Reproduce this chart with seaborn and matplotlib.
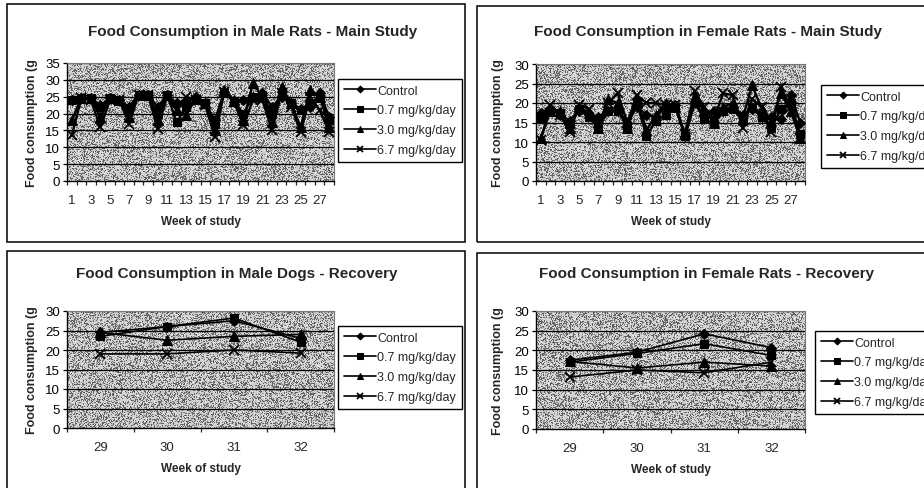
import numpy as np
import pandas as pd
import matplotlib
matplotlib.use("Agg")
import matplotlib.pyplot as plt
from matplotlib.patches import Rectangle
import seaborn as sns

sns.set_theme(style="white")
plt.rcParams["font.family"] = ["Liberation Sans", "DejaVu Sans"]

# ---- data -----------------------------------------------------------------
doses = ["Control", "0.7 mg/kg/day", "3.0 mg/kg/day", "6.7 mg/kg/day"]

main_weeks = list(range(1, 29))
male_rats_control = [24, 24.5, 24.5, 22.5, 24.5, 24, 22, 25.5, 25.5, 22, 25.5, 23, 23, 25,
                     23, 18, 26.5, 23.5, 24, 25, 26, 22, 25, 23, 21.5, 22, 26, 19]
male_rats_07 = [24, 24.5, 24.5, 22, 24.5, 24, 21, 25.5, 25.5, 20, 25.5, 17.5, 22, 24,
                23, 17, 26.5, 23.5, 20, 25, 25.5, 20, 26, 23, 21, 23, 25, 18]
male_rats_30 = [18, 24.5, 24.5, 19, 24.5, 24, 19, 25.5, 25.5, 18, 25.5, 21, 19.5, 24.5,
                23, 15, 27, 24, 18, 29, 25, 17.5, 28, 23, 16, 27, 25, 16]
male_rats_67 = [13.5, 24.5, 24, 16, 24, 24, 17, 25.5, 25.5, 15.5, 25, 21, 25, 24,
                22.5, 13, 26.5, 23.5, 16.5, 24, 24, 15, 26, 22, 14.5, 25, 21, 14.5]

female_rats_control = [17.5, 18.5, 17, 15.5, 18, 17, 16.5, 18, 18, 15, 19, 17, 16.5, 19,
                       19.5, 11.5, 20, 17, 18, 18, 19, 17, 18.5, 16.5, 16.5, 16, 22, 15]
female_rats_07 = [16, 18, 17.5, 14.5, 18.5, 16.5, 13.5, 18, 18, 14, 20, 11.5, 15.5, 17,
                  19, 11.5, 20, 16, 14.5, 18, 18.5, 15.5, 19, 16.5, 13.5, 18.5, 20, 12]
female_rats_30 = [11, 18, 18, 13.5, 19, 17.5, 13.5, 21, 20, 13.5, 21, 13, 17, 20,
                  19, 12, 21.5, 18, 15, 19, 20, 16, 24.5, 18.5, 15.5, 22.5, 18, 11]
female_rats_67 = [10.5, 19.5, 17, 12.5, 19.5, 18.5, 15, 20, 22.5, 15, 22, 20, 20, 19.5,
                  19.5, 12, 23, 19, 16, 22.5, 22, 13.5, 21, 19, 12.5, 24, 19, 11]

recovery_weeks = [29, 30, 31, 32]
male_dogs_control = [24.5, 26, 27.5, 23]
male_dogs_07 = [23.5, 26, 28.2, 22]
male_dogs_30 = [24.5, 22.5, 23.5, 24]
male_dogs_67 = [19, 19, 20, 19.2]

female_rec_control = [17.5, 19.5, 24.2, 20.7]
female_rec_07 = [17, 19.2, 21.7, 18.7]
female_rec_30 = [17.2, 15.5, 17, 16]
female_rec_67 = [13.2, 15, 14.3, 17]

# ---- figure helpers -------------------------------------------------------
W, H = 924, 489
fig = plt.figure(figsize=(W / 100, H / 100), dpi=100)


def rect(l, t, r, b):
    return [l / W, 1 - b / H, (r - l) / W, (b - t) / H]


def fx(x):
    return x / W


def fy(y):
    return 1 - y / H


markers = ["D", "s", "^", "X"]
marker_kw = {"D": 5, "s": 5.5, "^": 6.5, "X": 6.5}
rng = np.random.default_rng(3)


def long_frame(weeks, series):
    rows = []
    for name, vals in zip(doses, series):
        for w, v in zip(weeks, vals):
            rows.append({"week": w, "value": v, "dose": name})
    return pd.DataFrame(rows)


def panel(ax_px, frame_px, title, title_xy, weeks, series, ymax, main, legend_xy, ylab_x):
    l, t, r, b = frame_px
    fig.patches.append(Rectangle((fx(l), fy(b)), (r - l) / W, (b - t) / H,
                                 transform=fig.transFigure, fill=False,
                                 edgecolor="black", linewidth=1.1, zorder=0))
    ax = fig.add_axes(rect(*ax_px))
    # stippled grey plot area
    tex = rng.random((120, 270))
    tex = np.where(tex < 0.35, 0.40, 0.82) + rng.normal(0, 0.04, tex.shape)
    ax.imshow(tex, cmap="gray", vmin=0, vmax=1, aspect="auto", interpolation="nearest",
              extent=(0, 1, 0, 1), transform=ax.transAxes, zorder=0)

    df = long_frame(weeks, series)
    lw = 1.7 if main else 1.2
    sns.lineplot(data=df, x="week", y="value", style="dose", markers=markers,
                 dashes=False, color="black", linewidth=lw, markersize=5,
                 ax=ax, legend=False, zorder=3)
    for line, m in zip(ax.get_lines(), markers):
        line.set_markersize(marker_kw[m])
        line.set_markeredgecolor("black")
        line.set_markerfacecolor("black")
        if m == "X":
            line.set_marker("x")
            line.set_markeredgewidth(1.3)

    ax.set_ylim(0, ymax)
    ax.set_yticks(np.arange(0, ymax + 1, 5))
    for yv in np.arange(5, ymax + 1, 5):
        ax.axhline(yv, color="black", linewidth=0.9, zorder=1)

    if main:
        ax.set_xlim(0.5, 28.5)
        ax.set_xticks(np.arange(0.5, 28.6, 1.0))
        shown = weeks[::2]
    else:
        ax.set_xlim(28.5, 32.5)
        ax.set_xticks(np.arange(28.5, 32.6, 1.0))
        shown = weeks
    ax.set_xticklabels([])
    for w in shown:
        ax.text(w, -0.16, str(w), transform=ax.get_xaxis_transform(),
                ha="center", va="center", fontsize=9.5)

    ax.tick_params(axis="y", labelsize=9.5, length=3, width=0.9, pad=2, direction="out",
                   left=True, colors="black")
    ax.tick_params(axis="x", length=3, width=0.9, direction="out", bottom=True)
    ax.set_xlabel("")
    ax.set_ylabel("")
    for s in ("left", "bottom"):
        ax.spines[s].set_color("black")
        ax.spines[s].set_linewidth(1.0)
    for s in ("top", "right"):
        ax.spines[s].set_color("#777777")
        ax.spines[s].set_linewidth(0.8)
        ax.spines[s].set_linestyle((0, (1, 1)))

    # titles and axis captions
    fig.text(fx(title_xy[0]), fy(title_xy[1]), title, ha="center", va="center",
             fontsize=11, fontweight="bold")
    cy = (ax_px[1] + ax_px[3]) / 2
    fig.text(fx(ylab_x), fy(cy), "Food consumption (g", rotation=90, ha="center",
             va="center", fontsize=9, fontweight="bold")
    fig.text(fx((ax_px[0] + ax_px[2]) / 2), fy(ax_px[3] + 40), "Week of study",
             ha="center", va="center", fontsize=8.5, fontweight="bold")

    handles = ax.get_lines()[:4]
    leg = ax.legend(handles, doses, loc="upper left",
                    bbox_to_anchor=(fx(legend_xy[0]), fy(legend_xy[1])),
                    bbox_transform=fig.transFigure, fontsize=9, frameon=True,
                    fancybox=False, edgecolor="black", framealpha=1,
                    handlelength=2.6, handletextpad=0.1, labelspacing=0.62,
                    borderpad=0.45, borderaxespad=0, markerscale=0.7)
    for h in leg.legend_handles:
        h.set_linewidth(1.2)
    leg.get_frame().set_linewidth(1.0)
    return ax


panel((67, 64, 334, 182), (7, 5, 465, 243), "Food Consumption in Male Rats - Main Study",
      (253, 32), main_weeks,
      [male_rats_control, male_rats_07, male_rats_30, male_rats_67], 35, True,
      (338, 80), 32)
panel((536, 65, 805, 182), (477, 7, 935, 243), "Food Consumption in Female Rats - Main Study",
      (708, 32), main_weeks,
      [female_rats_control, female_rats_07, female_rats_30, female_rats_67], 30, True,
      (821, 86), 498)
panel((67, 312, 334, 429), (7, 252, 465, 495), "Food Consumption in Male Dogs - Recovery",
      (237, 274), recovery_weeks,
      [male_dogs_control, male_dogs_07, male_dogs_30, male_dogs_67], 30, False,
      (338, 327), 32)
panel((536, 312, 805, 430), (477, 254, 935, 495), "Food Consumption in Female Rats - Recovery",
      (707, 274), recovery_weeks,
      [female_rec_control, female_rec_07, female_rec_30, female_rec_67], 30, False,
      (815, 332), 498)

fig.savefig("out.png", dpi=100)
